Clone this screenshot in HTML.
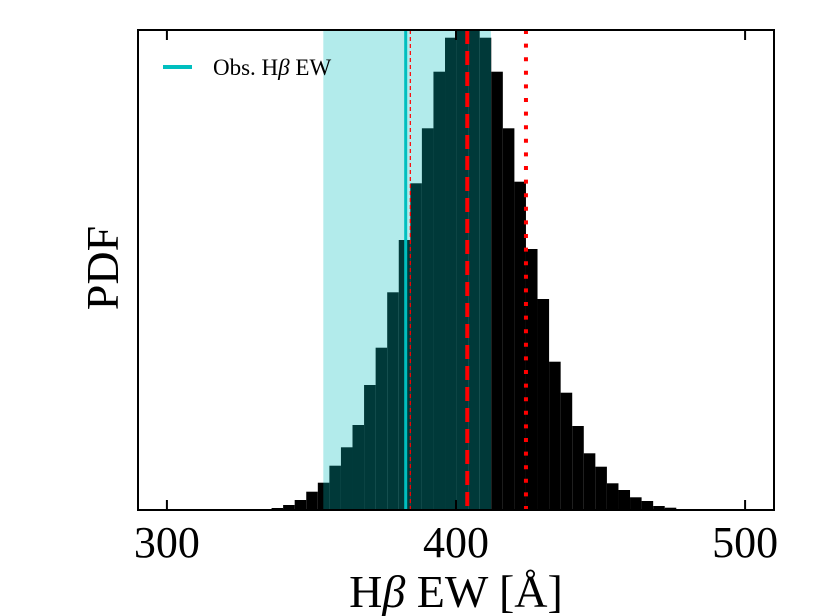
<!DOCTYPE html>
<html><head><meta charset="utf-8"><style>
html,body{margin:0;padding:0;background:#fff;}
svg{display:block;font-family:"Liberation Serif",serif;}
</style></head><body>
<svg id="chart" width="815" height="616" viewBox="0 0 815 616" xmlns="http://www.w3.org/2000/svg">
<g id="bars"></g>
<g id="overlay"></g>
<rect x="138" y="30" width="636" height="480" fill="none" stroke="#000" stroke-width="2"/>
<g id="ticks"></g>
<g>
<line x1="163" y1="67" x2="192" y2="67" stroke="#00bfbf" stroke-width="4"/>
<text x="213" y="75" font-size="23">Obs. H<tspan font-style="italic">β</tspan> EW</text>
</g>
<text transform="translate(118,268) rotate(-90)" text-anchor="middle" font-size="46">PDF</text>
<text x="456" y="607" text-anchor="middle" font-size="46">H<tspan font-style="italic">β</tspan> EW [Å]</text>
</svg>
<script>
const binStart = 332.2;
const binWidth = 4.0;
const counts = [1,2,5,10,18.3,27.3,44.3,62.7,85,125,162.3,217.7,270,326.7,381.7,438.3,472.3,490,490,472.3,438.3,381.7,328.3,261,211,148.3,117.3,84,56.7,43.3,26.7,20,12.7,9,4,2.3,0.7];
const xTicks = [300,400,500];
const band = [354.1,412.1];
const obsEW = 382.6;
const lowLine = 384.2;
const medianLine = 403.9;
const highLine = 424.2;

const X0=138,X1=774,Y0=510,Y1=30,xmin=290,xmax=510,ymax=480;
const NS="http://www.w3.org/2000/svg";
function x(v){return X0+(v-xmin)*(X1-X0)/(xmax-xmin);}
function y(v){return Y0-Math.min(v,ymax)*(Y0-Y1)/ymax;}
function mk(tag,attrs,parent){const e=document.createElementNS(NS,tag);for(const k in attrs)e.setAttribute(k,attrs[k]);parent.appendChild(e);return e;}
const gb=document.getElementById('bars');
counts.forEach((c,i)=>{
  const a=binStart+i*binWidth;
  const r=mk('rect',{x:x(a),y:y(c),width:x(a+binWidth)-x(a),height:Y0-y(c),fill:'#000'},gb);
  
  
});
const go=document.getElementById('overlay');
const b=mk('rect',{x:x(band[0]),y:Y1,width:x(band[1])-x(band[0]),height:Y0-Y1,fill:'rgba(0,188,188,0.3)'},go);


const l1=mk('line',{x1:x(obsEW),x2:x(obsEW),y1:Y1,y2:Y0,stroke:'#00bfbf','stroke-width':3},go);


const l2=mk('line',{x1:x(lowLine),x2:x(lowLine),y1:Y1,y2:Y0,stroke:'#f00','stroke-width':1.2,'stroke-dasharray':'4 3'},go);


const l3=mk('line',{x1:x(medianLine),x2:x(medianLine),y1:Y1,y2:Y0,stroke:'#f00','stroke-width':4,'stroke-dasharray':'14 7'},go);


const l4=mk('line',{x1:x(highLine),x2:x(highLine),y1:Y1,y2:Y0,stroke:'#f00','stroke-width':4,'stroke-dasharray':'4 9.6'},go);


const gt=document.getElementById('ticks');
xTicks.forEach(t=>{
  const a=mk('line',{x1:x(t),x2:x(t),y1:Y0,y2:Y0-10,stroke:'#000','stroke-width':2},gt);
  
  
  const c=mk('line',{x1:x(t),x2:x(t),y1:Y1,y2:Y1+10,stroke:'#000','stroke-width':2},gt);
  
  
  const tx=mk('text',{x:x(t),y:557,'text-anchor':'middle','font-size':44},gt);
  tx.textContent=t;
  
  
});
</script>
</body></html>
